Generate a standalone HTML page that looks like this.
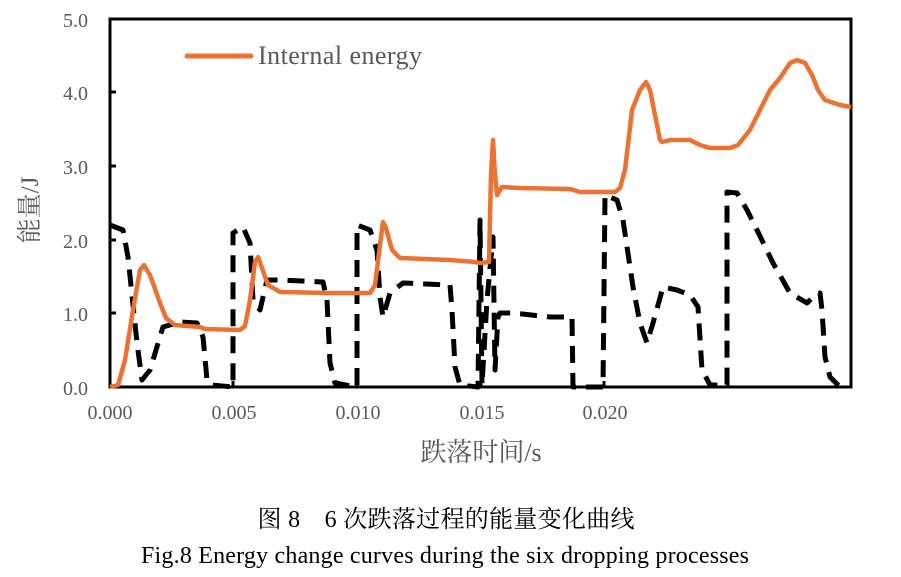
<!DOCTYPE html><html><head><meta charset="utf-8"><style>body{margin:0;background:#fff}svg{display:block}</style></head><body>
<svg width="901" height="577" xmlns="http://www.w3.org/2000/svg" font-family="Liberation Serif, Noto Serif CJK SC, serif">
<rect x="0" y="0" width="901" height="577" fill="#fff"/>
<g stroke="#000" stroke-width="3" fill="none">
<rect x="110" y="19" width="741" height="368"/>
<path d="M110 313h6M110 240h6M110 166h6M110 92h6M233 387v-6M357 387v-6M481 387v-6M604 387v-6M728 387v-6"/>
</g>
<g fill="#595959" font-size="20" text-anchor="end">
<text x="88" y="395">0.0</text><text x="88" y="321">1.0</text><text x="88" y="248">2.0</text><text x="88" y="174">3.0</text><text x="88" y="100">4.0</text><text x="88" y="27">5.0</text>
</g>
<g fill="#595959" font-size="20" text-anchor="middle">
<text x="110" y="419">0.000</text><text x="234" y="419">0.005</text><text x="358" y="419">0.010</text><text x="482" y="419">0.015</text><text x="605" y="419">0.020</text>
<text x="481" y="461" font-size="26">跌落时间/s</text>
</g>
<text transform="translate(38,210) rotate(-90)" fill="#595959" font-size="25" text-anchor="middle">能量/J</text>
<polyline fill="none" stroke="#000" stroke-width="5" stroke-dasharray="17,10" stroke-linejoin="round" points="110,225 123,230 128,257 137,343 142,380 150,370 163,327 180,322 197,323 203,337 207,380 212,385 233,387 233,233 243,227 250,243 253,300 260,310 267,280 280,280 323,282 327,300 330,363 335,383 357,387 357,225 370,230 377,250 380,297 383,317 390,293 403,283 450,285 452,310 455,367 460,385 478,387 480,220 482,385 487,300 493,237 495,370 498,317 500,313 513,313 550,317 572,317 573,387 603,387 605,195 617,200 623,220 633,287 640,323 647,343 653,323 663,287 677,290 690,295 698,307 702,370 710,385 727,385 727,192 737,193 747,210 757,230 773,263 790,293 807,303 813,297 820,293 822,310 825,357 830,377 840,387"/>
<polyline fill="none" stroke="#ED7232" stroke-width="4.5" stroke-linejoin="round" points="110,387 118,385 125,360 133,310 140,270 144,265 150,275 160,303 166,318 175,325 200,327 205,329 240,330 245,326 250,300 255,262 258,257 262,268 268,285 280,292 330,293 370,293 375,285 380,245 383,222 386,228 392,250 400,258 450,260 475,262 480,263 489,262 491,175 493,140 495,175 497,195 502,187 520,188 570,189 580,192 615,192 620,188 625,170 632,110 640,90 646,82 650,90 660,140 662,142 670,140 690,140 700,145 710,148 730,148 738,145 750,130 760,110 770,90 780,78 790,63 797,60 805,63 812,75 818,90 825,100 840,105 851,107"/>
<line x1="187" y1="56" x2="251" y2="56" stroke="#ED7232" stroke-width="5" stroke-linecap="round"/>
<text x="258" y="64" fill="#595959" font-size="26" textLength="164">Internal energy</text>
<text x="446" y="527" font-size="24" text-anchor="middle" fill="#000" textLength="377">图 8　6 次跌落过程的能量变化曲线</text>
<text x="445" y="563" font-size="24" text-anchor="middle" fill="#000" textLength="608">Fig.8 Energy change curves during the six dropping processes</text>
</svg>
</body></html>
